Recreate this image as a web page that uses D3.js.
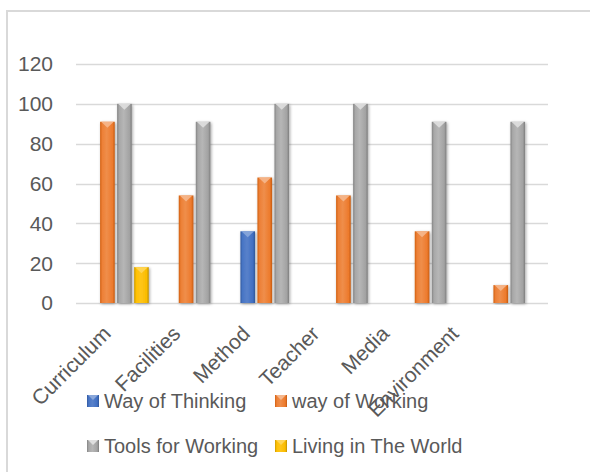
<!DOCTYPE html>
<html><head><meta charset="utf-8">
<script src="https://cdn.jsdelivr.net/npm/d3@7"></script>
<style>html,body{margin:0;padding:0;background:#fff;}svg{display:block;}</style>
</head><body>
<svg id="chart" width="590" height="472"></svg>
<script>
const categories = ["Curriculum","Facilities","Method","Teacher","Media","Environment"];
const seriesNames = ["Way of Thinking","way of Working","Tools for Working","Living in The World"];
const wayOfThinking = [0, 0, 36, 0, 0, 0];
const wayOfWorking = [91, 54, 63, 54, 36, 9];
const toolsForWorking = [100, 91, 100, 100, 91, 91];
const livingInTheWorld = [18, 0, 0, 0, 0, 0];
const yTicks = [0, 20, 40, 60, 80, 100, 120];
const seriesValues = [wayOfThinking, wayOfWorking, toolsForWorking, livingInTheWorld];
const colors = ["#4472C4", "#ED7D31", "#A5A5A5", "#FFC000"];

const svg = d3.select("#chart");
const font = "'Liberation Sans', Arial, sans-serif";
const textColor = "#595959";

// border
svg.append("path").attr("d", "M7,472 L7,11 L590,11").attr("fill", "none")
  .attr("stroke", "#D9D9D9").attr("stroke-width", 2);

const plot = {left: 76, right: 548, top: 64, bottom: 303};
const x0 = d3.scaleBand().domain(categories).range([plot.left, plot.right]).padding(0);
const x1 = d3.scaleBand().domain(seriesNames)
  .range([x0.bandwidth() * 0.09, x0.bandwidth() * 0.925]).paddingInner(0.14).paddingOuter(0);
const y = d3.scaleLinear().domain([0, 120]).range([plot.bottom, plot.top]);

const defs = svg.append("defs");
function shade(c, k) { const h = d3.hsl(c); h.l = Math.max(0, Math.min(1, h.l * k)); return h.toString(); }
colors.forEach((c, i) => {
  const g = defs.append("linearGradient").attr("id", "g" + i).attr("x1", "0").attr("x2", "1").attr("y1", "0").attr("y2", "0");
  g.append("stop").attr("offset", "0").attr("stop-color", shade(c, 0.8));
  g.append("stop").attr("offset", "0.15").attr("stop-color", shade(c, 1.02));
  g.append("stop").attr("offset", "0.45").attr("stop-color", shade(c, 1.1));
  g.append("stop").attr("offset", "0.85").attr("stop-color", shade(c, 0.98));
  g.append("stop").attr("offset", "1").attr("stop-color", shade(c, 0.75));
});
const f = defs.append("filter").attr("id", "shadow").attr("x", "-50%").attr("y", "-10%").attr("width", "200%").attr("height", "120%");
f.append("feDropShadow").attr("dx", 1).attr("dy", 1).attr("stdDeviation", 1.5).attr("flood-color", "#000").attr("flood-opacity", 0.35);

// gridlines
svg.append("g").selectAll("line").data(yTicks).join("line")
  .attr("x1", plot.left).attr("x2", plot.right)
  .attr("y1", d => Math.round(y(d)) + 0.5).attr("y2", d => Math.round(y(d)) + 0.5)
  .attr("stroke", "#D9D9D9").attr("stroke-width", 1.5);

// y labels
svg.append("g").selectAll("text").data(yTicks).join("text")
  .attr("x", 53).attr("y", d => y(d)).attr("dy", "0.35em")
  .attr("text-anchor", "end").attr("font-family", font).attr("font-size", 21)
  .attr("fill", textColor).text(d => d);

// bars
const groups = svg.append("g").selectAll("g").data(categories).join("g")
  .attr("transform", d => `translate(${x0(d)},0)`);
groups.each(function(cat, ci) {
  const g = d3.select(this);
  seriesNames.forEach((s, si) => {
    const v = seriesValues[si][ci];
    if (!v) return;
    const bx = x1(s), bw = x1.bandwidth(), by = y(v), bh = y(0) - y(v);
    g.append("rect").attr("x", bx).attr("y", by).attr("width", bw).attr("height", bh)
      .attr("fill", `url(#g${si})`).attr("filter", "url(#shadow)");
    const tri = Math.min(6, bh);
    g.append("path")
      .attr("d", `M${bx + 1},${by} L${bx + bw - 1},${by} L${bx + bw / 2},${by + tri} Z`)
      .attr("fill", shade(colors[si], 1.35)).attr("opacity", 0.9);
  });
});

// category labels
const xl = d3.scalePoint().domain(categories).range([112, 460]);
svg.append("g").selectAll("text").data(categories).join("text")
  .attr("transform", d => `translate(${xl(d)},335) rotate(-45)`)
  .attr("text-anchor", "end").attr("font-family", font).attr("font-size", 21)
  .attr("fill", textColor).text(d => d);

// legend
const legendPos = [[87, 401], [275, 401], [87, 446], [275, 446]];
const leg = svg.append("g").selectAll("g").data(seriesNames).join("g")
  .attr("transform", (d, i) => `translate(${legendPos[i][0]},${legendPos[i][1]})`);
leg.append("rect").attr("x", 0).attr("y", -6).attr("width", 12).attr("height", 12)
  .attr("fill", (d, i) => `url(#g${i})`);
leg.append("path").attr("d", "M1,-6 L11,-6 L6,-1 Z").attr("fill", (d, i) => shade(colors[i], 1.35));
leg.append("text").attr("x", 17).attr("y", 0).attr("dy", "0.35em")
  .attr("font-family", font).attr("font-size", 20).attr("fill", textColor).text(d => d);
</script>
</body></html>
